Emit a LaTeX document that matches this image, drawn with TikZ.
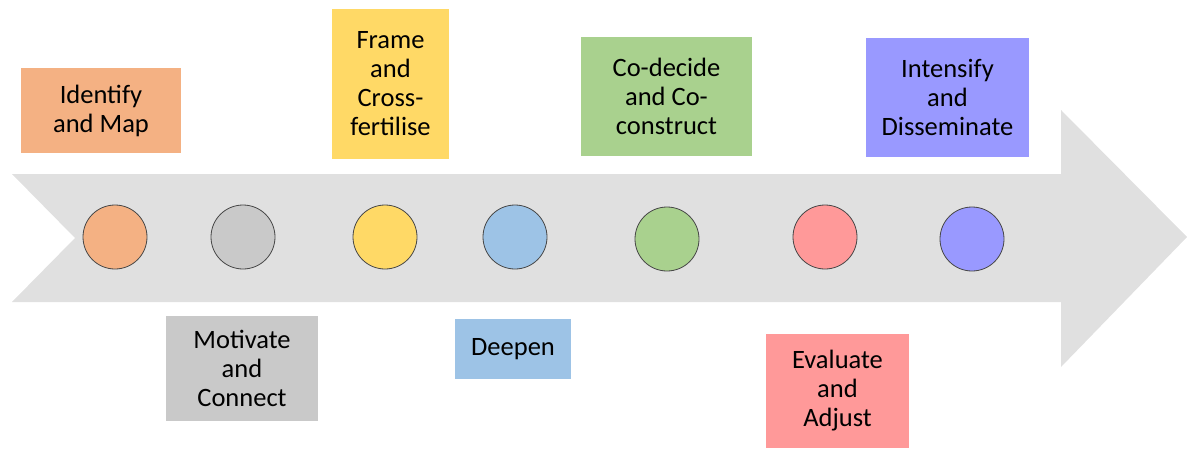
\documentclass[tikz,border=0pt]{standalone}
\usepackage{fontspec}
\setmainfont{Carlito}
\tikzset{dot/.style = {circle, draw = gray!55!black, line width = 0.8pt, minimum size = 64pt, inner sep = 0}}
\tikzset{stage/.style = {rectangle, inner sep = 0, align = center, font = \fontsize{26.5}{29}\selectfont}}
\definecolor{sorange}{HTML}{F4B183}
\definecolor{sgray}{HTML}{C9C9C9}
\definecolor{syellow}{HTML}{FFD966}
\definecolor{sblue}{HTML}{9DC3E6}
\definecolor{sgreen}{HTML}{A9D18E}
\definecolor{sred}{HTML}{FF9999}
\definecolor{spurple}{HTML}{9999FF}
\definecolor{sarrow}{HTML}{E0E0E0}

\begin{document}
\begin{tikzpicture}[x = 1pt, y = -1pt]
    \useasboundingbox (0, 0) rectangle (1187, 450);
    \fill [sarrow] (12, 174) -- (1061, 174) -- (1061, 110) -- (1187, 237)
      -- (1061, 367) -- (1061, 302) -- (12, 302) -- (75, 238) -- cycle;

    \foreach \name/\x/\y/\col in {map/115/237/sorange, connect/243/237/sgray,
        frame/385/237/syellow, deepen/515/237/sblue, codecide/667/239/sgreen,
        evaluate/825/237/sred, intensify/972/239/spurple} {
      \node [dot, fill = \col] (dot-\name) at (\x, \y) {};
    }

    \node [stage, fill = sorange, minimum width = 160pt, minimum height = 85pt]
      (map) at (101, 110.5) {Identify\\and Map};
    \node [stage, fill = sgray, minimum width = 152pt, minimum height = 105pt]
      (connect) at (242, 368.5) {Motivate\\and\\Connect};
    \node [stage, fill = syellow, minimum width = 117pt, minimum height = 150pt]
      (frame) at (390.5, 84) {Frame\\and\\Cross-\\fertilise};
    \node [stage, fill = sblue, minimum width = 116pt, minimum height = 60pt]
      (deepen) at (513, 349) {Deepen};
    \node [stage, fill = sgreen, minimum width = 171pt, minimum height = 119pt]
      (codecide) at (666.5, 96.5) {Co-decide\\and Co-\\construct};
    \node [stage, fill = sred, minimum width = 143pt, minimum height = 114pt]
      (evaluate) at (837.5, 391) {Evaluate\\and\\Adjust};
    \node [stage, fill = spurple, minimum width = 163pt, minimum height = 119pt]
      (intensify) at (947.5, 97.5) {Intensify\\and\\Disseminate};
  \end{tikzpicture}
\end{document}
